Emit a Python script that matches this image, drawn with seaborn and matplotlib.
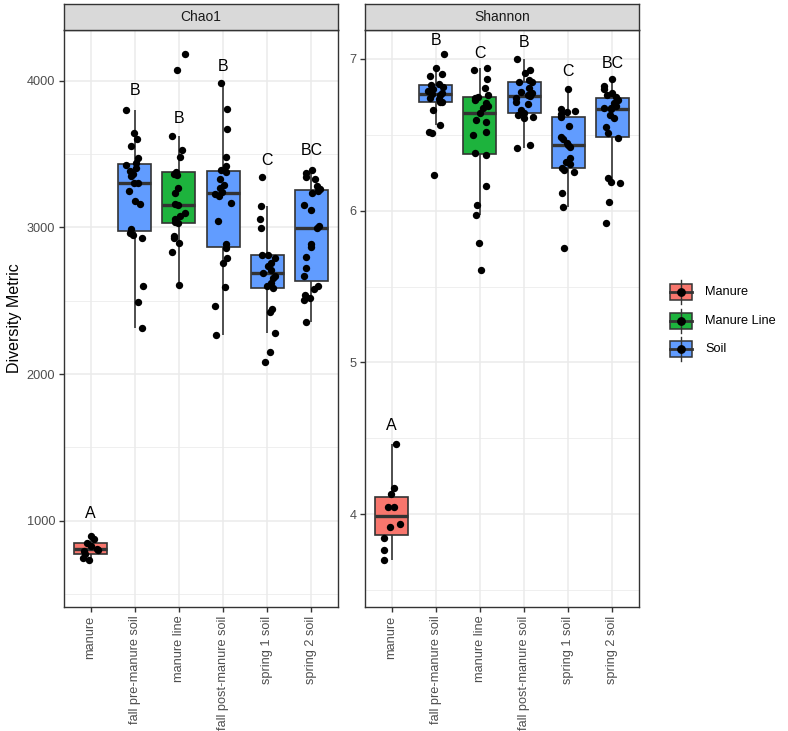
import numpy as np
import pandas as pd
import matplotlib
matplotlib.use("Agg")
import matplotlib.pyplot as plt
import seaborn as sns
from matplotlib.ticker import MultipleLocator, FixedLocator
from matplotlib.patches import Rectangle
from matplotlib.lines import Line2D

plt.rcParams['font.family'] = ['Liberation Sans', 'DejaVu Sans']

# ---------------- data ----------------
categories = ["manure", "fall pre-manure soil", "manure line",
              "fall post-manure soil", "spring 1 soil", "spring 2 soil"]
category_type = ["Manure", "Soil", "Manure Line", "Soil", "Soil", "Soil"]
sample_types = ["Manure", "Manure Line", "Soil"]
type_colors = ["#F8766D", "#1DB33D", "#619CFF"]
metrics = ["Chao1", "Shannon"]

chao1_manure = [897, 875, 850, 830, 810, 800, 790, 770, 745, 730]
chao1_fall_pre = [3802, 3642, 3603, 3553, 3471, 3440, 3425, 3409, 3386, 3363, 3348, 3306,
                  3300, 3250, 3180, 3162, 2990, 2960, 2952, 2925, 2598, 2491, 2317]
chao1_manure_line = [4185, 4076, 3621, 3528, 3478, 3379, 3363, 3356, 3272, 3238, 3160,
                     3153, 3101, 3078, 3055, 3037, 3030, 2941, 2930, 2895, 2831, 2610]
chao1_fall_post = [3987, 3809, 3672, 3478, 3421, 3393, 3375, 3330, 3290, 3270, 3245,
                   3225, 3215, 3169, 3044, 2884, 2861, 2793, 2759, 2594, 2462, 2267]
chao1_spring1 = [3345, 3147, 3055, 2998, 2815, 2815, 2793, 2759, 2735, 2713, 2690,
                 2667, 2656, 2622, 2600, 2587, 2444, 2421, 2279, 2153, 2084]
chao1_spring2 = [3395, 3370, 3341, 3330, 3280, 3261, 3250, 3233, 3152, 3120, 3009, 2993,
                 2884, 2868, 2800, 2724, 2671, 2600, 2580, 2537, 2518, 2502, 2354]

shannon_manure = [4.462, 4.170, 4.132, 4.049, 4.045, 3.934, 3.916, 3.844, 3.763, 3.701]
shannon_fall_pre = [7.031, 6.939, 6.900, 6.885, 6.830, 6.835, 6.815, 6.800, 6.790, 6.778,
                    6.770, 6.760, 6.745, 6.735, 6.719, 6.717, 6.664, 6.565, 6.520, 6.514, 6.235]
shannon_manure_line = [6.939, 6.930, 6.866, 6.807, 6.763, 6.748, 6.745, 6.730, 6.708, 6.690,
                       6.675, 6.642, 6.600, 6.587, 6.521, 6.499, 6.382, 6.367, 6.165, 6.038,
                       5.972, 5.790, 5.609]
shannon_fall_post = [6.998, 6.927, 6.906, 6.862, 6.850, 6.846, 6.810, 6.785, 6.775, 6.763,
                     6.755, 6.740, 6.719, 6.700, 6.664, 6.642, 6.630, 6.620, 6.609, 6.433, 6.411]
shannon_spring1 = [6.800, 6.668, 6.660, 6.650, 6.635, 6.620, 6.560, 6.488, 6.470, 6.448,
                   6.433, 6.420, 6.345, 6.323, 6.308, 6.280, 6.270, 6.257, 6.119, 6.026, 5.752]
shannon_spring2 = [6.866, 6.822, 6.800, 6.778, 6.760, 6.748, 6.730, 6.710, 6.690, 6.680,
                   6.675, 6.672, 6.630, 6.609, 6.554, 6.510, 6.477, 6.214, 6.190, 6.181,
                   6.060, 5.917]

chao1_letters = ["A", "B", "B", "B", "C", "BC"]
chao1_letter_y = [1052, 3933, 3743, 4095, 3456, 3522]
shannon_letters = ["A", "B", "C", "B", "C", "BC"]
shannon_letter_y = [4.587, 7.125, 7.037, 7.110, 6.916, 6.972]

chao1_ticks = [1000, 2000, 3000, 4000]
shannon_ticks = [4, 5, 6, 7]

# ---------------- build tables ----------------
series = {
    "Chao1": [chao1_manure, chao1_fall_pre, chao1_manure_line, chao1_fall_post,
              chao1_spring1, chao1_spring2],
    "Shannon": [shannon_manure, shannon_fall_pre, shannon_manure_line, shannon_fall_post,
                shannon_spring1, shannon_spring2],
}
rows = []
for m in metrics:
    for cat, typ, vals in zip(categories, category_type, series[m]):
        for v in vals:
            rows.append({"metric": m, "group": cat, "type": typ, "value": v})
df = pd.DataFrame(rows)

palette = dict(zip(sample_types, type_colors))
letters = {"Chao1": (chao1_letters, chao1_letter_y), "Shannon": (shannon_letters, shannon_letter_y)}
ticks = {"Chao1": (chao1_ticks, 500), "Shannon": (shannon_ticks, 0.5)}
ylims = {"Chao1": (411, 4347), "Shannon": (3.388, 7.191)}

W, H = 788, 731
fig = plt.figure(figsize=(W / 100, H / 100), dpi=100)

panel_left = [64, 365]
panel_w = 274
panel_top, panel_bot = 30, 607
edge = "#333333"

np.random.seed(3)
for m, px in zip(metrics, panel_left):
    ax = fig.add_axes([px / W, 1 - panel_bot / H, panel_w / W, (panel_bot - panel_top) / H])
    d = df[df.metric == m]
    sns.boxplot(data=d, x="group", y="value", hue="type", order=categories,
                hue_order=sample_types, palette=palette, dodge=False, width=0.75,
                saturation=1, linewidth=1.2, linecolor=edge, showfliers=False,
                showcaps=False, legend=False, ax=ax,
                medianprops={"linewidth": 2.4, "color": edge})
    sns.stripplot(data=d, x="group", y="value", order=categories, color="black",
                  size=5.3, jitter=0.2, ax=ax, zorder=4, legend=False)
    labs, ly = letters[m]
    for i, (t, y) in enumerate(zip(labs, ly)):
        ax.text(i, y, t, ha="center", va="center", fontsize=11.5, color="black", zorder=5)
    tk, minor = ticks[m]
    ax.set_xlim(-0.6, 5.6)
    ax.set_ylim(*ylims[m])
    ax.yaxis.set_major_locator(FixedLocator(tk))
    ax.yaxis.set_minor_locator(MultipleLocator(minor))
    ax.set_axisbelow(True)
    ax.grid(which="major", color="#EBEBEB", linewidth=1.1)
    ax.grid(which="minor", axis="y", color="#EBEBEB", linewidth=0.55)
    ax.set_xlabel("")
    ax.set_ylabel("")
    ax.tick_params(axis="both", which="major", length=3.8, width=1.0, color=edge,
                   labelcolor="#4D4D4D", labelsize=9.2, pad=2.5)
    ax.tick_params(axis="y", which="minor", length=0)
    ax.tick_params(axis="x", labelrotation=90)
    for s in ax.spines.values():
        s.set_color(edge)
        s.set_linewidth(1.0)
    ax.set_facecolor("white")
    # strip
    sax = fig.add_axes([px / W, 1 - panel_top / H, panel_w / W, 26 / H])
    sax.set_facecolor("#D9D9D9")
    sax.set_xticks([]); sax.set_yticks([])
    for s in sax.spines.values():
        s.set_color(edge)
        s.set_linewidth(1.0)
    sax.text(0.5, 0.5, m, ha="center", va="center", fontsize=10, color="#1A1A1A",
             transform=sax.transAxes)

fig.text(14 / W, 1 - 318 / H, "Diversity Metric", rotation=90, ha="center", va="center",
         fontsize=11.5, color="black")

# legend
lax = fig.add_axes([0, 0, 1, 1])
lax.set_xlim(0, W); lax.set_ylim(H, 0)
lax.axis("off")
lax.patch.set_alpha(0)
for i, (t, c) in enumerate(zip(sample_types, type_colors)):
    yc = 292 + i * 28.5
    xc = 681.5
    lax.add_line(Line2D([xc, xc], [yc - 12, yc + 12], color=edge, lw=1.0))
    lax.add_patch(Rectangle((670.5, yc - 8), 22, 16, facecolor=c, edgecolor=edge, lw=1.1))
    lax.add_line(Line2D([670.5, 692.5], [yc, yc], color=edge, lw=2.0))
    lax.plot([xc], [yc], "o", color="black", markersize=5.3)
    lax.text(705, yc, t, ha="left", va="center", fontsize=9.2, color="black")

fig.savefig("out.png", dpi=100, facecolor="white")
